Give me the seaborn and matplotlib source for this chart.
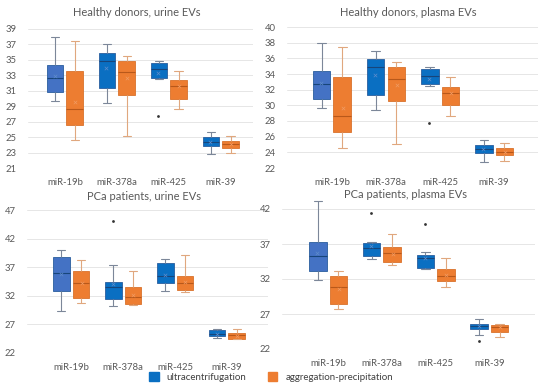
import numpy as np
import pandas as pd
import matplotlib
matplotlib.use("Agg")
import matplotlib.pyplot as plt
from matplotlib.patches import Patch
import seaborn as sns

# ---------------- data ----------------
categories = ["miR-19b", "miR-378a", "miR-425", "miR-39"]
methods = ["ultracentrifugation", "aggregation-precipitation"]

# five-number summaries per category: [min, q1, median, q3, max]
hd_urine_uc = [[29.7, 30.8, 32.7, 34.4, 37.9], [29.4, 31.3, 34.9, 35.9, 37.0],
               [32.5, 32.7, 33.8, 34.6, 34.9], [22.8, 23.9, 24.4, 25.0, 25.6]]
hd_urine_ap = [[24.6, 26.6, 28.6, 33.6, 37.5], [25.1, 30.5, 33.4, 34.9, 35.5],
               [28.7, 30.0, 31.6, 32.4, 33.6], [22.9, 23.6, 24.1, 24.5, 25.2]]
hd_urine_uc_mean = [32.9, 33.9, 33.3, 24.4]
hd_urine_ap_mean = [29.6, 32.6, 31.6, 24.1]
hd_urine_outliers = [("miR-425", "ultracentrifugation", 27.7)]

hd_plasma_uc = [[29.7, 30.8, 32.7, 34.4, 37.9], [29.4, 31.3, 34.9, 35.9, 37.0],
                [32.5, 32.7, 33.8, 34.6, 34.9], [22.8, 23.9, 24.4, 25.0, 25.6]]
hd_plasma_ap = [[24.6, 26.6, 28.6, 33.6, 37.5], [25.1, 30.5, 33.4, 34.9, 35.5],
                [28.7, 30.0, 31.6, 32.4, 33.6], [22.9, 23.6, 24.1, 24.5, 25.2]]
hd_plasma_uc_mean = [32.9, 33.9, 33.3, 24.4]
hd_plasma_ap_mean = [29.6, 32.6, 31.6, 24.1]
hd_plasma_outliers = [("miR-425", "ultracentrifugation", 27.7)]

pca_urine_uc = [[29.4, 32.9, 36.0, 38.7, 40.0], [30.3, 31.5, 33.5, 34.5, 37.4],
                [32.8, 34.3, 35.5, 37.7, 38.4], [24.7, 24.9, 25.4, 26.0, 26.2]]
pca_urine_ap = [[30.7, 31.6, 34.3, 36.4, 38.3], [30.4, 30.5, 31.8, 33.5, 36.4],
                [32.6, 33.0, 34.2, 35.5, 39.1], [24.4, 24.5, 25.1, 25.5, 26.2]]
pca_urine_uc_mean = [35.8, 34.0, 35.7, 25.4]
pca_urine_ap_mean = [34.3, 32.1, 34.5, 25.0]
pca_urine_outliers = [("miR-378a", "ultracentrifugation", 45.1)]

pca_plasma_uc = [[31.8, 33.1, 35.3, 37.3, 43.1], [34.9, 35.3, 36.5, 37.2, 37.3],
                 [33.5, 33.6, 35.0, 35.4, 35.9], [24.0, 24.9, 25.3, 25.6, 26.3]]
pca_plasma_ap = [[27.7, 28.5, 30.9, 32.5, 33.2], [34.0, 34.5, 35.7, 36.6, 38.5],
                 [30.9, 31.7, 32.5, 33.4, 35.0], [23.7, 24.5, 25.2, 25.5, 25.55]]
pca_plasma_uc_mean = [35.7, 36.7, 35.0, 25.3]
pca_plasma_ap_mean = [30.6, 35.6, 32.6, 25.1]
pca_plasma_outliers = [("miR-378a", "ultracentrifugation", 41.5),
                       ("miR-425", "ultracentrifugation", 39.8),
                       ("miR-39", "ultracentrifugation", 23.1)]

titles = ["Healthy donors, urine EVs", "Healthy donors, plasma EVs",
          "PCa patients, urine EVs", "PCa patients, plasma EVs"]
yticks_list = [list(range(21, 40, 2)), list(range(22, 41, 2)),
               list(range(22, 48, 5)), list(range(22, 43, 5))]

# ---------------- style ----------------
sns.set_theme(style="white")
plt.rcParams["font.family"] = ["Lato", "DejaVu Sans"]

BLUE = "#0A6FC2"
BLUE_LIGHT = "#4472C4"
ORANGE = "#ED7D31"
TXT = "#595959"
palette = {methods[0]: BLUE, methods[1]: ORANGE}


def long_frame(uc, ap):
    rows = []
    for i, cat in enumerate(categories):
        for m, summ in zip(methods, (uc[i], ap[i])):
            for v in summ:
                rows.append((cat, m, v))
    return pd.DataFrame(rows, columns=["miRNA", "method", "Ct"])


def mean_frame(ucm, apm):
    rows = []
    for i, cat in enumerate(categories):
        rows.append((cat, methods[0], ucm[i]))
        rows.append((cat, methods[1], apm[i]))
    return pd.DataFrame(rows, columns=["miRNA", "method", "Ct"])


panels = [
    (hd_urine_uc, hd_urine_ap, hd_urine_uc_mean, hd_urine_ap_mean, hd_urine_outliers),
    (hd_plasma_uc, hd_plasma_ap, hd_plasma_uc_mean, hd_plasma_ap_mean, hd_plasma_outliers),
    (pca_urine_uc, pca_urine_ap, pca_urine_uc_mean, pca_urine_ap_mean, pca_urine_outliers),
    (pca_plasma_uc, pca_plasma_ap, pca_plasma_uc_mean, pca_plasma_ap_mean, pca_plasma_outliers),
]

W, H = 550, 391
fig = plt.figure(figsize=(5.5, 3.91), dpi=100)

# layout in pixels: (left, right, top, bottom) of plot area
rects_px = [(28, 253, 29, 168), (287, 538, 27, 168), (27, 268, 210, 353), (282, 535, 195, 349)]
xlims = [(-0.71, 3.62), (-0.83, 3.81), (-0.85, 3.79), (-0.86, 3.85)]
ylims = [(21, 39), (22, 40), (22, 47), (22, 44)]
title_pos = [(137, 13), (408, 13), (144, 197), (405, 194)]

for k, (uc, ap, ucm, apm, outl) in enumerate(panels):
    l, r, t, b = rects_px[k]
    ax = fig.add_axes([l / W, 1 - b / H, (r - l) / W, (b - t) / H])
    df = long_frame(uc, ap)
    sns.boxplot(data=df, x="miRNA", y="Ct", hue="method", order=categories,
                hue_order=methods, palette=palette, saturation=1, whis=(0, 100),
                width=0.76, gap=0.15, linewidth=0.9, showfliers=False,
                legend=False, ax=ax)
    # per-group line colours
    for ci, cont in enumerate(ax.containers[:2]):
        if ci == 0:
            box_edge, wcol, medcol = "#2A5E9E", "#7C8799", "#17457A"
        else:
            box_edge, wcol, medcol = "#D9722C", "#E0A77E", "#B8581A"
        for bx in cont.boxes:
            bx.set_edgecolor(box_edge)
            bx.set_linewidth(0.6)
        for ln in list(cont.whiskers) + list(cont.caps):
            ln.set_color(wcol)
            ln.set_linewidth(0.8)
        for ln in cont.medians:
            ln.set_color(medcol)
            ln.set_linewidth(0.8)
        if ci == 0:
            cont.boxes[0].set_facecolor(BLUE_LIGHT)

    mdf = mean_frame(ucm, apm)
    sns.stripplot(data=mdf, x="miRNA", y="Ct", hue="method", order=categories,
                  hue_order=methods, dodge=True, jitter=False, marker="x",
                  palette={methods[0]: "#5F8CCB", methods[1]: "#F09A62"},
                  size=2.5, linewidth=0.5, legend=False, ax=ax, zorder=5)
    odf = pd.DataFrame(outl, columns=["miRNA", "method", "Ct"])
    sns.stripplot(data=odf, x="miRNA", y="Ct", hue="method", order=categories,
                  hue_order=methods, dodge=True, jitter=False,
                  palette={methods[0]: "#333333", methods[1]: "#333333"},
                  size=2, legend=False, ax=ax, zorder=6)

    ax.set_xlim(*xlims[k])
    ax.set_ylim(*ylims[k])
    ax.set_yticks(yticks_list[k])
    ax.set_yticklabels([str(v) for v in yticks_list[k]])
    ax.set_xlabel("")
    ax.set_ylabel("")
    ax.grid(axis="y", color="#E6E6E6", linewidth=0.7)
    ax.set_axisbelow(True)
    for s in ax.spines.values():
        s.set_visible(False)
    ax.tick_params(axis="x", length=0, pad=7, labelsize=6.8, colors=TXT)
    ax.tick_params(axis="y", length=0, pad=8, labelsize=6.8, colors=TXT)
    tx, ty = title_pos[k]
    fig.text(tx / W, 1 - ty / H, titles[k], ha="center", va="center",
             fontsize=8.0, color=TXT)

handles = [Patch(facecolor=BLUE, edgecolor=BLUE), Patch(facecolor=ORANGE, edgecolor=ORANGE)]
fig.legend(handles, methods, loc="center", bbox_to_anchor=(271 / W, 1 - 377 / H),
           ncol=2, frameon=False, fontsize=7.0, handlelength=1.0, handleheight=1.0,
           handletextpad=0.8, columnspacing=2.2, labelcolor="#404040")

fig.savefig("out.png", dpi=100, facecolor="white")
